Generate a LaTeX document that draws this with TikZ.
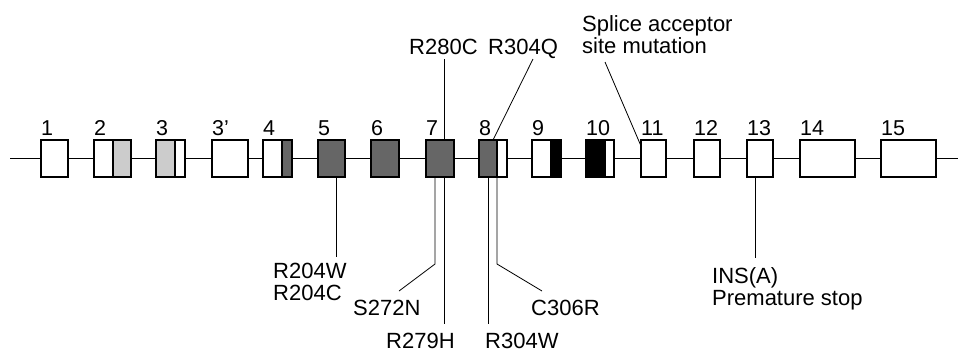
\documentclass[tikz,border=0pt]{standalone}
\usepackage{fontspec}
\setmainfont{Liberation Sans}
\usetikzlibrary{calc}
\definecolor{exlight}{HTML}{CCCCCC}
\definecolor{exdark}{HTML}{666666}
\begin{document}
\begin{tikzpicture}[x=1pt,y=-1pt,
  exon/.style={draw=black, line width=1.3pt, inner sep=0pt, minimum height=37pt, anchor=north west, outer sep=0pt},
  wh/.style={exon, fill=white},
  lg/.style={exon, fill=exlight},
  dk/.style={exon, fill=exdark},
  bk/.style={exon, fill=black},
  num/.style={anchor=base west, inner sep=0pt, font=\fontsize{21.5}{22}\selectfont},
  lab/.style={anchor=base west, inner sep=0pt, align=left, font=\fontsize{22}{22}\selectfont},
  conn/.style={draw=black, line width=0.8pt},
  intron/.style={draw=black, line width=1.2pt},
]
\useasboundingbox (0,0) rectangle (959,354);
% intron line
\coordinate (lstart) at (10,158.5);
\coordinate (lend) at (958,158.5);
\draw[intron] (lstart) -- (lend);
% R280C / R279H line (behind exon 7)
\coordinate (c7top) at (444,59);
\coordinate (c7bot) at (444,324);
\draw[conn] (c7top) -- (c7bot);
% exons
\node[wh, minimum width=27pt] (e1) at (41,140) {};
\node[wh, minimum width=19pt] (e2a) at (94,140) {};
\node[lg, minimum width=18pt] (e2b) at (113,140) {};
\node[lg, minimum width=19pt] (e3a) at (156,140) {};
\node[wh, minimum width=10pt] (e3b) at (175,140) {};
\node[wh, minimum width=36pt] (e3p) at (212,140) {};
\node[wh, minimum width=19pt] (e4a) at (263,140) {};
\node[dk, minimum width=10pt] (e4b) at (282,140) {};
\node[dk, minimum width=27pt] (e5) at (318,140) {};
\node[dk, minimum width=28pt] (e6) at (371,140) {};
\node[dk, minimum width=28pt] (e7) at (426,140) {};
\node[dk, minimum width=18pt] (e8a) at (479,140) {};
\node[wh, minimum width=10pt] (e8b) at (497,140) {};
\node[wh, minimum width=19pt] (e9a) at (532,140) {};
\node[bk, minimum width=10pt] (e9b) at (551,140) {};
\node[bk, minimum width=19pt] (e10a) at (586,140) {};
\node[wh, minimum width=9pt] (e10b) at (605,140) {};
\node[wh, minimum width=25pt] (e11) at (641,140) {};
\node[wh, minimum width=26pt] (e12) at (694,140) {};
\node[wh, minimum width=26pt] (e13) at (747,140) {};
\node[wh, minimum width=55pt] (e14) at (800,140) {};
\node[wh, minimum width=55pt] (e15) at (881,140) {};
% exon numbers
\node[num] (n1) at (41,135.5) {1};
\node[num] (n2) at (94,135.5) {2};
\node[num] (n3) at (156,135.5) {3};
\node[num] (n3p) at (212,135.5) {3'};
\node[num] (n4) at (263,135.5) {4};
\node[num] (n5) at (318,135.5) {5};
\node[num] (n6) at (371,135.5) {6};
\node[num] (n7) at (426,135.5) {7};
\node[num] (n8) at (479,135.5) {8};
\node[num] (n9) at (532,135.5) {9};
\node[num] (n10) at (586,135.5) {10};
\node[num] (n11) at (641,135.5) {11};
\node[num] (n12) at (694,135.5) {12};
\node[num] (n13) at (747,135.5) {13};
\node[num] (n14) at (800,135.5) {14};
\node[num] (n15) at (881,135.5) {15};
% mutation labels
\node[lab] (r280c) at (409,54) {R280C};
\node[lab] (r304q) at (488,54) {R304Q};
\node[lab] (splice) at (582,53) {Splice acceptor\\site mutation};
\node[lab] (r204) at (273,300) {R204W\\R204C};
\node[lab] (s272n) at (353,315) {S272N};
\node[lab] (r279h) at (386,348) {R279H};
\node[lab] (r304w) at (485,348) {R304W};
\node[lab] (c306r) at (531,315) {C306R};
\node[lab] (ins) at (712,305) {INS(A)\\Premature stop};
% connectors
\coordinate (q1) at (533,59);
\draw[conn] (q1) -- ($(e8a.north west)+(14,0)$);
\coordinate (sp1) at (605,62);
\draw[conn] (sp1) -- ($(e11.north west)+(0,6)$);
\coordinate (w1) at (336,257);
\draw[conn] ($(e5.south west)+(18,0)$) -- (w1);
\coordinate (sn1) at (435,264);
\coordinate (sn2) at (399,291);
\draw[conn] ($(e7.south west)+(9,0)$) -- (sn1) -- (sn2);
\coordinate (w4) at (488,324);
\draw[conn] ($(e8a.south west)+(9,0)$) -- (w4);
\coordinate (cr1) at (497,264);
\coordinate (cr2) at (542,291);
\draw[conn] (e8a.south east) -- (cr1) -- (cr2);
\coordinate (in1) at (755,258);
\draw[conn] ($(e13.south west)+(8,0)$) -- (in1);
\end{tikzpicture}
\end{document}
